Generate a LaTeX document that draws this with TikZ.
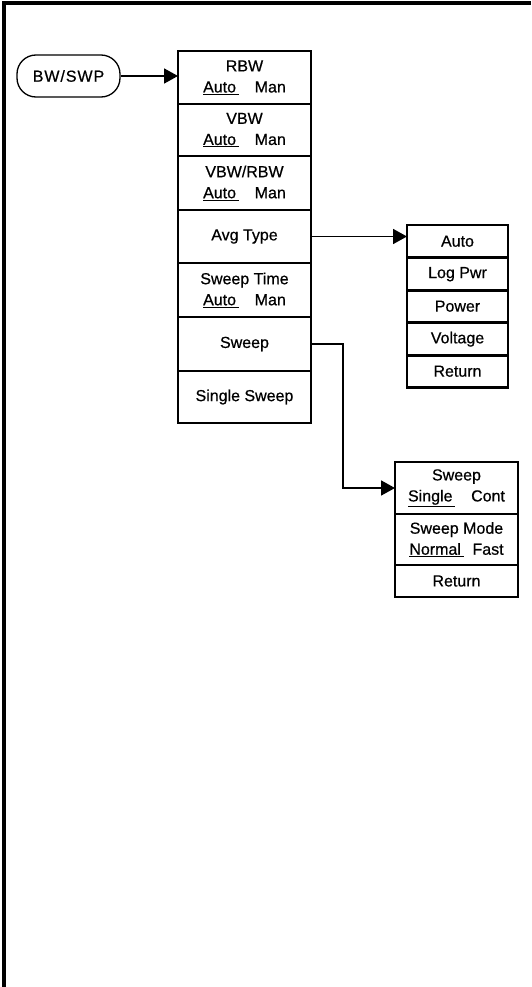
\documentclass[tikz,border=0pt]{standalone}
\usepackage{fontspec}
\setmainfont{Liberation Sans}
\newfontfamily\keyfont[BoldFont={Liberation Sans}, BoldFeatures={FakeBold=0.6}]{Liberation Sans}
\usetikzlibrary{arrows.meta,positioning}
\newcommand{\sel}[1]{\underline{#1\,}}
\tikzset{
  bx/.style={draw, line width=2.2pt, align=center, inner sep=2pt, outer sep=0pt, font=\fontsize{16}{21}\keyfont\bfseries},
  mnu/.style={bx, minimum width=133pt, anchor=north west},
  sub/.style={bx, minimum width=101pt, minimum height=32.4pt, anchor=north west},
  sub2/.style={bx, minimum width=123pt, anchor=north west},
  hkey/.style={draw, line width=1.3pt, rounded corners=19pt, minimum width=103pt, minimum height=42pt, font=\fontsize{16}{21}\keyfont\bfseries\addfontfeature{LetterSpace=6}},
  arr/.style={-{Triangle[length=14pt,width=15pt]}, line width=1.7pt},
  frm/.style={line width=3.2pt},
}
\begin{document}
\begin{tikzpicture}[x=1pt, y=-1pt]
    \useasboundingbox (0,0) rectangle (531,987);
    \draw[frm] (4,987) |- (531,3);
    \node[hkey] (bw) at (68.5,76) {BW/SWP};
    % main menu
    \foreach \nm/\y/\hh/\tx in {
      rbw/51/53/{RBW\\\sel{Auto}\quad Man},
      vbw/104/52/{VBW\\\sel{Auto}\quad Man},
      ratio/156/54/{VBW/RBW\\\sel{Auto}\quad Man},
      avg/210/53/{Avg Type},
      stime/263/54/{Sweep Time\\\sel{Auto}\quad Man},
      swp/317/54/{Sweep},
      single/371/52/{Single Sweep}}
    {
      \node[mnu, minimum height=\hh pt] (\nm) at (178,\y) {\tx};
    }
    % avg type menu
    \foreach \nm/\y/\tx in {
      auto/225/{Auto},
      logp/258/{Log Pwr},
      pwr/290/{Power},
      volt/323/{Voltage},
      aret/355/{Return}}
    {
      \node[sub] (\nm) at (407,\y) {\tx};
    }
    % sweep menu
    \foreach \nm/\y/\hh/\tx in {
      scont/462/52/{Sweep\\\sel{Single}\quad Cont},
      smode/514/51/{Sweep Mode\\\sel{Normal}\ \ Fast},
      sret/565/32/{Return}}
    {
      \node[sub2, minimum height=\hh pt] (\nm) at (395,\y) {\tx};
    }
    \draw[arr] (bw) -- (bw -| rbw.west);
    \draw[arr] (avg.east) -- (avg.east -| auto.west);
    \draw[arr] (swp.east) -- ++(32,0) |- (scont.west);
\end{tikzpicture}
\end{document}
